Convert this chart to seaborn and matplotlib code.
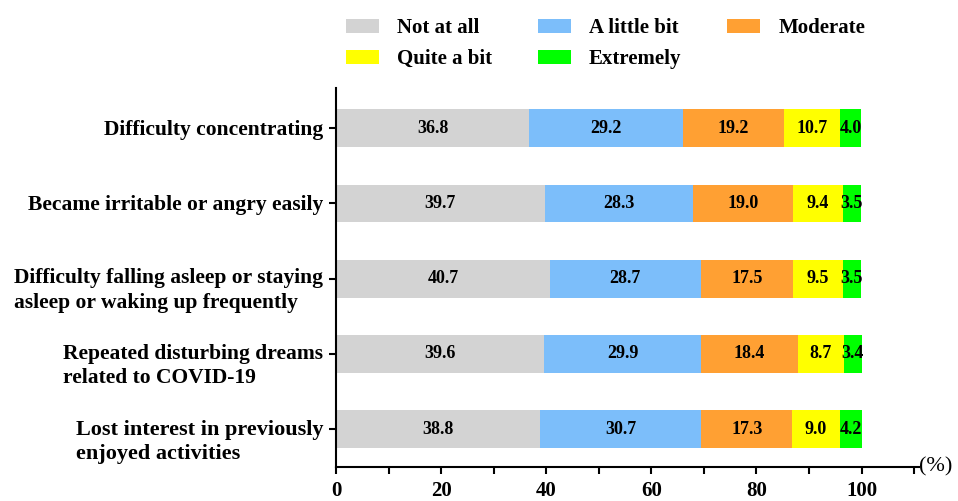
import numpy as np
import pandas as pd
import matplotlib
matplotlib.use("Agg")
import matplotlib.pyplot as plt
import seaborn as sns
from matplotlib.patches import Patch
from matplotlib.ticker import MultipleLocator

# symptom items (top to bottom)
items = [
    "Difficulty concentrating",
    "Became irritable or angry easily",
    "Difficulty falling asleep or staying\nasleep or waking up frequently",
    "Repeated disturbing dreams\nrelated to COVID-19",
    "Lost interest in previously\nenjoyed activities",
]
levels = ["Not at all", "A little bit", "Moderate", "Quite a bit", "Extremely"]
not_at_all = [36.8, 39.7, 40.7, 39.6, 38.8]
a_little = [29.2, 28.3, 28.7, 29.9, 30.7]
moderate = [19.2, 19.0, 17.5, 18.4, 17.3]
quite_a_bit = [10.7, 9.4, 9.5, 8.7, 9.0]
extremely = [4.0, 3.5, 3.5, 3.4, 4.2]
colors = ["#D3D3D3", "#7CBEFA", "#FFA033", "#FFFF00", "#00FF00"]

df = pd.DataFrame({"item": items, "Not at all": not_at_all, "A little bit": a_little,
                   "Moderate": moderate, "Quite a bit": quite_a_bit, "Extremely": extremely})
cum = df[levels].cumsum(axis=1)

sns.set_style("white")
plt.rcParams['font.family'] = ['Liberation Serif', 'DejaVu Serif']
plt.rcParams['font.weight'] = 'bold'
plt.rcParams['text.color'] = 'black'
plt.rcParams['xtick.color'] = 'black'
plt.rcParams['ytick.color'] = 'black'

fig = plt.figure(figsize=(9.58, 5.01), dpi=100)
ax = fig.add_axes([0.3507, 0.068, 0.609, 0.756])

# stacked bars: draw the cumulative totals from the right-most segment back
for lev, col in reversed(list(zip(levels, colors))):
    sns.barplot(x=cum[lev], y=df["item"], color=col, orient="h", width=0.5,
                saturation=1, ax=ax, edgecolor="none")

# value labels
for i in range(len(items)):
    for lev in levels:
        v = df.loc[i, lev]
        ax.text(cum.loc[i, lev] - v / 2, i, f"{v:.1f}", ha="center", va="center",
                fontsize=13, fontweight="bold", color="black")

ax.set_xlim(0, 111)
ax.set_ylim(4.5, -0.53)
ax.set_xlabel("")
ax.set_ylabel("")
ax.set_xticks([0, 20, 40, 60, 80, 100])
ax.xaxis.set_minor_locator(MultipleLocator(10))
ax.tick_params(axis="x", which="both", direction="out", length=5, width=1.5, bottom=True,
               labelsize=15, pad=5, color="black", labelcolor="black")
ax.tick_params(axis="y", direction="out", length=5, width=1.5, left=True, color="black")
for lbl in ax.get_xticklabels():
    lbl.set_fontweight("bold")

# category labels, first line on the tick
ax.set_yticks(range(len(items)))
ax.set_yticklabels([""] * len(items))
ls = 1.3
for i, name in enumerate(items):
    fs = 16 if i == 4 else 15.5
    nl = name.count("\n")
    ax.annotate(name, xy=(0, i), xycoords="data",
                xytext=(-9, -5 - nl * fs * ls * 0.79), textcoords="offset points",
                ha="right", va="baseline", multialignment="left", fontsize=fs,
                fontweight="bold", linespacing=ls, color="black", annotation_clip=False)

for s in ["top", "right"]:
    ax.spines[s].set_visible(False)
for s in ["left", "bottom"]:
    ax.spines[s].set_color("black")
    ax.spines[s].set_linewidth(1.5)

fig.text(0.977, 0.068, "(%)", ha="center", va="center", fontsize=16, fontweight="normal",
         color="black")

handles = [Patch(facecolor=c, edgecolor="none", label=l) for l, c in zip(levels, colors)]
order = [0, 3, 1, 4, 2]
fig.legend([handles[k] for k in order], [levels[k] for k in order], ncol=3,
           loc="upper left", bbox_to_anchor=(0.35, 0.985), frameon=False,
           prop={"size": 15, "weight": "bold"}, handlelength=1.6, handleheight=0.65,
           handletextpad=0.85, columnspacing=2.2, labelspacing=0.55, borderpad=0)

fig.savefig("out.png", dpi=100)
